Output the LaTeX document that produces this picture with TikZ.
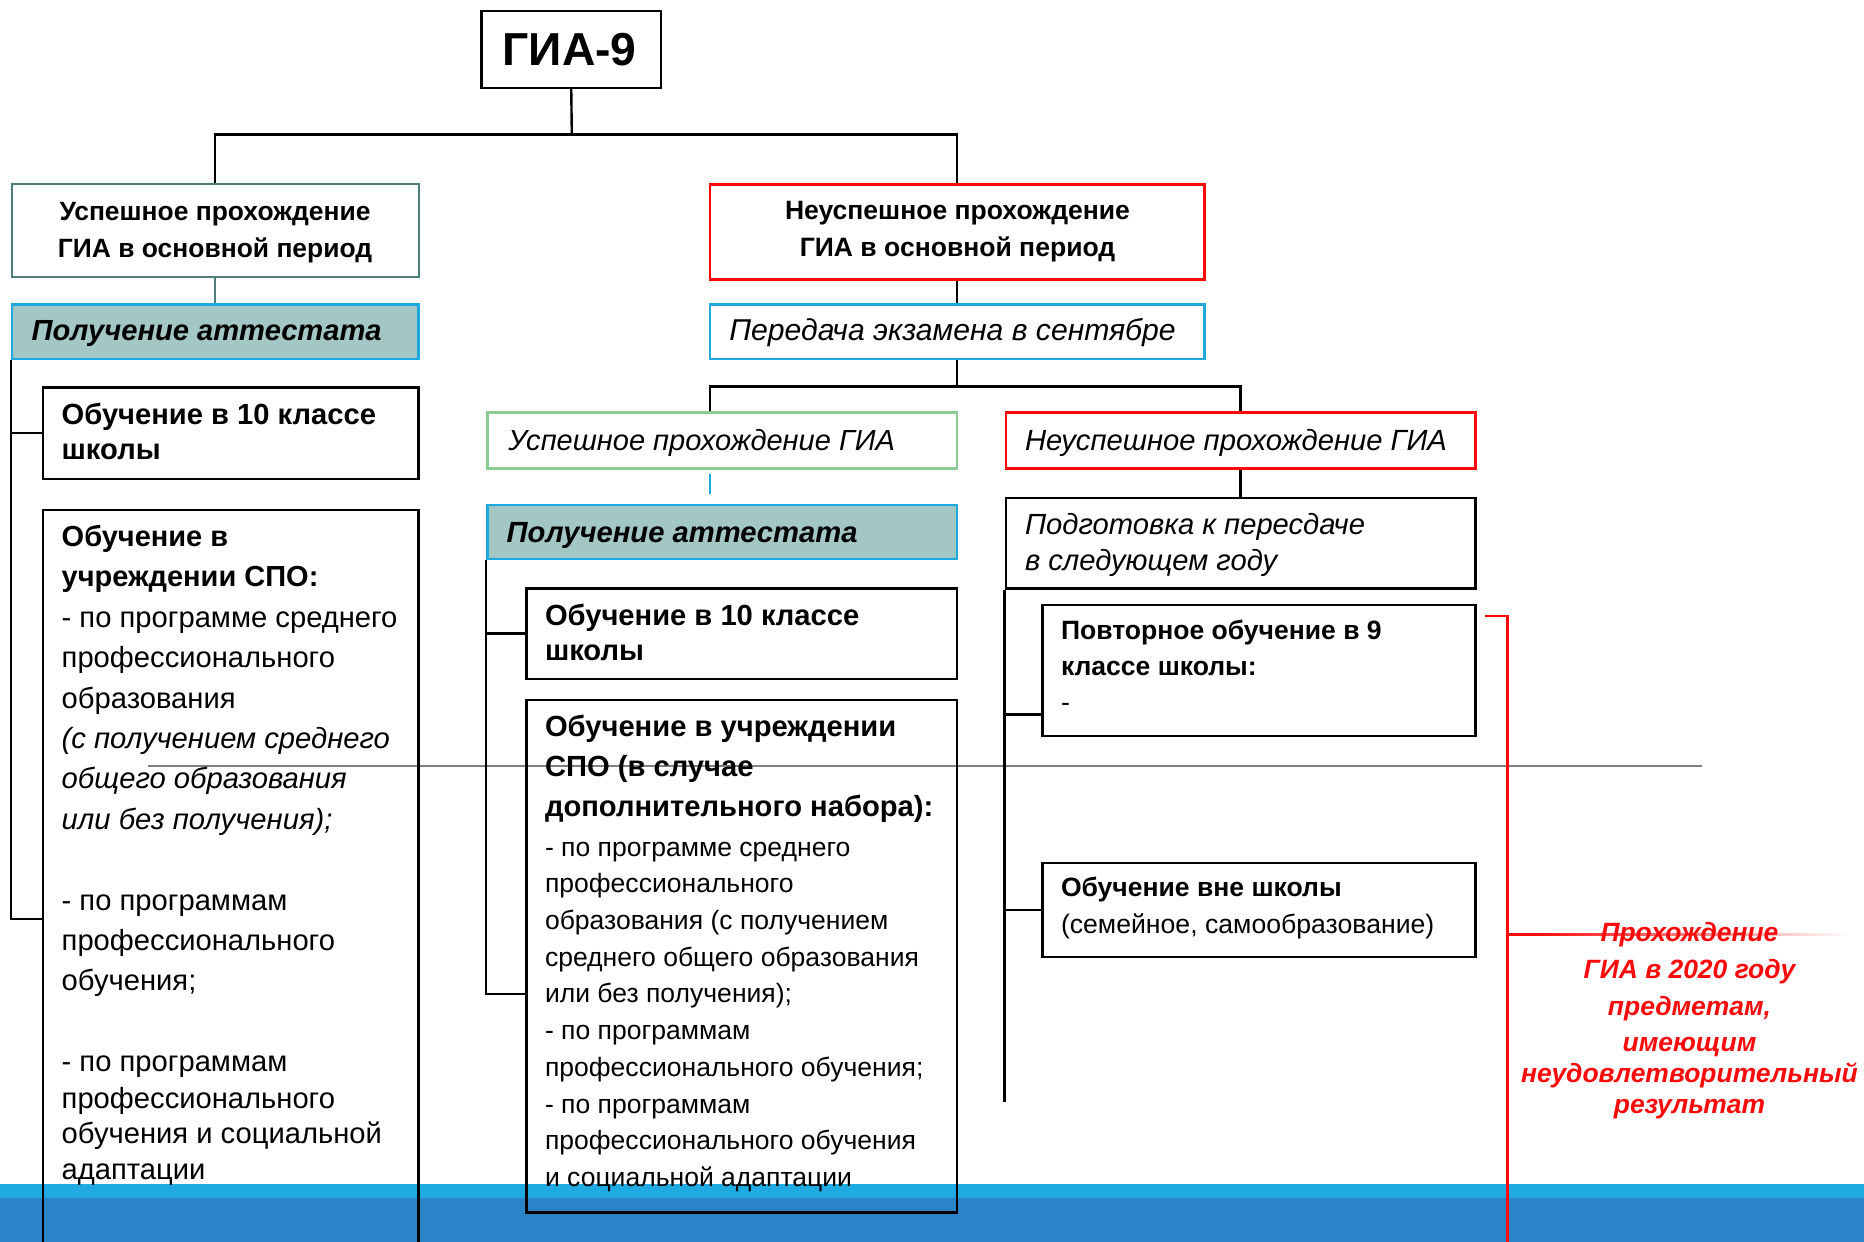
\documentclass[tikz,border=0pt]{standalone}
\usepackage{fontspec}
\setmainfont{Liberation Sans}
\usepackage{graphicx}
\usetikzlibrary{fit,calc}
\definecolor{tealb}{RGB}{78,126,122}
\definecolor{tealf}{RGB}{163,199,196}
\definecolor{cyanb}{RGB}{30,168,224}
\definecolor{redb}{RGB}{250,10,10}
\definecolor{greenb}{RGB}{140,205,150}
\definecolor{bandl}{RGB}{31,170,226}
\definecolor{bandd}{RGB}{41,133,199}
\definecolor{grayl}{RGB}{128,128,128}
\newsavebox\fitbox
\newcommand\fitsize[3]{\sbox\fitbox{\normalfont\fontsize{10}{12}\selectfont #3}\pgfmathsetmacro#1{10*#2/\the\wd\fitbox}\global\let#1#1}
\newcommand\fs[2]{\fontsize{#1}{#2}\selectfont}
\begin{document}
\fitsize\zzGIA{134}{\bfseries ГИА-9}
\fitsize\zzTopL{311}{\bfseries Успешное прохождение}
\fitsize\zzTopR{345}{\bfseries Неуспешное прохождение}
\fitsize\zzAttL{350}{\bfseries\itshape Получение аттестата}
\fitsize\zzSept{446.4}{\itshape Передача экзамена в сентябре}
\fitsize\zzOk{386.7}{\itshape Успешное прохождение ГИА}
\fitsize\zzFail{422}{\itshape Неуспешное прохождение ГИА}
\fitsize\zzAttM{351}{\bfseries\itshape Получение аттестата}
\fitsize\zzPrep{340}{\itshape Подготовка к пересдаче}
\fitsize\zzLten{314.3}{\bfseries Обучение в 10 классе}
\fitsize\zzLb{256.7}{\bfseries учреждении СПО:}
\fitsize\zzLr{335.7}{- по программе среднего}
\fitsize\zzLi{328.3}{\itshape (с получением среднего}
\fitsize\zzMten{314.3}{\bfseries Обучение в 10 классе}
\fitsize\zzMb{388.3}{\bfseries дополнительного набора):}
\fitsize\zzMr{374}{среднего общего образования}
\fitsize\zzRb{320.7}{\bfseries Повторное обучение в 9}
\fitsize\zzOb{280.7}{\bfseries Обучение вне школы}
\fitsize\zzOr{373.3}{(семейное, самообразование)}
\fitsize\zzRed{336.7}{\bfseries\itshape неудовлетворительный}
\begin{tikzpicture}[x=1pt,y=-1pt,
  bx/.style={draw,line width=2.4pt,inner sep=0pt},
  tx/.style={inner sep=0pt,outer sep=0pt},
  ln/.style={line width=2.4pt}]
\useasboundingbox (0,0) rectangle (1864,1242);
\fill[white] (0,0) rectangle (1864,1242);
% bottom bands
\fill[bandl] (0,1184) rectangle (1864,1198);
\fill[bandd] (0,1198) rectangle (1864,1242);
% thin gray rule
\draw[grayl,line width=2pt] (148,765.6) -- (1702.4,765.6);

% boxes
\node[bx, fit={(481.5,10.7) (661,88)}] (gia) {};
\node[bx, draw=tealb, line width=2pt, fit={(11.9,184.3) (418.5,277)}] (topL) {};
\node[bx, draw=redb, fit={(709.7,184.3) (1204.3,279.4)}] (topR) {};
\node[bx, draw=cyanb, fill=tealf, fit={(11.9,304.3) (418.5,359)}] (attL) {};
\node[bx, draw=cyanb, fit={(709.7,304.3) (1204.3,359)}] (sept) {};
\node[bx, draw=greenb, fit={(487.4,412.5) (957,468.4)}] (okG) {};
\node[bx, draw=redb, fit={(1005.7,412.5) (1475.3,468.4)}] (failG) {};
\node[bx, draw=cyanb, fill=tealf, fit={(487.4,505.2) (957,558.7)}] (attM) {};
\node[bx, fit={(1005.7,498.1) (1475.3,588.5)}] (prep) {};
\node[bx, fit={(42.8,387.5) (418.5,479)}] (L10) {};
\node[bx, fit={(42.8,510) (418.5,1262)}] (LSPO) {};
\node[bx, fit={(526.6,588.5) (957,678.8)}] (M10) {};
\node[bx, fit={(526.6,700.2) (957,1212.6)}] (MSPO) {};
\node[bx, fit={(1042.6,605.1) (1475.3,735.9)}] (rep) {};
\node[bx, fit={(1042.6,863) (1475.3,957)}] (outS) {};

% connectors
\coordinate (j1) at (571.8,134.3);
\draw[ln] (gia.south) -- (j1);
\draw[ln] (topL.north) |- (j1) -| (topR.north);
\draw[tealb,line width=2pt] (topL.south) -- (attL.north);
\draw[ln] (topR.south) -- (sept.north);
\coordinate (j2) at (957,386.4);
\coordinate (jl) at (709.7,386.4);
\draw[ln] (sept.south) -- (j2);
\draw[ln] (jl |- okG.north) |- (j2) -| (failG.north);
\draw[cyanb,line width=2.4pt,shorten <=4pt,shorten >=10pt] (okG.south -| jl) -- (attM.north -| jl);
\draw[ln] (failG.south) -- (prep.north);
\coordinate (yL2) at (0,918.9);
\draw[ln] (attL.south west) |- (L10.west);
\draw[ln] (attL.south west) |- (LSPO.west |- yL2);
\coordinate (yM2) at (0,993.8);
\draw[ln] (attM.south west) |- (M10.west);
\draw[ln] (attM.south west) |- (MSPO.west |- yM2);
\coordinate (yR1) at (0,714.5);
\coordinate (yR3) at (0,1102);
\draw[ln] (prep.south west) -- (prep.south west |- yR3);
\draw[ln] (prep.south west |- yR1) -- (rep.west |- yR1);
\draw[ln] (prep.south west |- outS.west) -- (outS.west);
% red bracket
\coordinate (rb1) at (1484.8,615.8);
\coordinate (rb2) at (1507.4,1262);
\coordinate (rb3) at (1507.4,934.4);
\coordinate (rb4) at (1532,934.4);
\draw[redb,line width=2.4pt] (rb1) -| (rb2);
\draw[redb,line width=3pt] (rb3) -- (rb4);
\shade[left color=redb,right color=white] (1532,933.2) rectangle (1850,935.6);

% texts
\node[tx,anchor=base] (tGIA) at (569.7,65) {\fs{\zzGIA}{50}\bfseries ГИА-9};
\node[tx,anchor=base] (tTopL) at (215,220) {\fs{\zzTopL}{37.5}\bfseries\begin{tabular}[t]{@{}c@{}}Успешное прохождение\\ГИА в основной период\end{tabular}};
\node[tx,anchor=base] (tTopR) at (957.5,219) {\fs{\zzTopR}{37.5}\bfseries\begin{tabular}[t]{@{}c@{}}Неуспешное прохождение\\ГИА в основной период\end{tabular}};
\node[tx,anchor=base west] (tAttL) at (31.7,340.7) {\fs{\zzAttL}{30}\bfseries\itshape Получение аттестата};
\node[tx,anchor=base west] (tSept) at (729.3,340.7) {\fs{\zzSept}{30}\itshape Передача экзамена в сентябре};
\node[tx,anchor=base west] (tOk) at (508.3,450) {\fs{\zzOk}{30}\itshape Успешное прохождение ГИА};
\node[tx,anchor=base west] (tFail) at (1025,450) {\fs{\zzFail}{30}\itshape Неуспешное прохождение ГИА};
\node[tx,anchor=base west] (tAttM) at (506.7,542) {\fs{\zzAttM}{30}\bfseries\itshape Получение аттестата};
\node[tx,anchor=base west] (tPrep) at (1025,534) {\fs{\zzPrep}{36}\itshape\begin{tabular}[t]{@{}l@{}}Подготовка к пересдаче\\в следующем году\end{tabular}};
\node[tx,anchor=base west] (tL10) at (61.7,424) {\fs{\zzLten}{35.5}\bfseries\begin{tabular}[t]{@{}l@{}}Обучение в 10 классе\\школы\end{tabular}};
\node[tx,anchor=base west] (tLSPOa) at (61.7,546.5) {\fs{\zzLr}{40.4}\begin{tabular}[t]{@{}l@{}}
{\fs{\zzLb}{40.4}\bfseries Обучение в}\\
{\fs{\zzLb}{40.4}\bfseries учреждении СПО:}\\
- по программе среднего\\
профессионального\\
образования\\
{\fs{\zzLi}{40.4}\itshape (с получением среднего}\\
{\fs{\zzLi}{40.4}\itshape общего образования}\\
{\fs{\zzLi}{40.4}\itshape или без получения);}\\
\\
- по программам\\
профессионального\\
обучения;\\
\\
- по программам\end{tabular}};
\node[tx,anchor=base west] (tLSPOb) at (61.7,1108.4) {\fs{\zzLr}{35.3}\begin{tabular}[t]{@{}l@{}}профессионального\\обучения и социальной\\адаптации\end{tabular}};
\node[tx,anchor=base west] (tM10) at (545,625.5) {\fs{\zzMten}{35.3}\bfseries\begin{tabular}[t]{@{}l@{}}Обучение в 10 классе\\школы\end{tabular}};
\node[tx,anchor=base west] (tMSPOa) at (545,736) {\fs{\zzMb}{40.4}\bfseries\begin{tabular}[t]{@{}l@{}}Обучение в учреждении\\СПО (в случае\\дополнительного набора):\end{tabular}};
\node[tx,anchor=base west] (tMSPOb) at (545,856) {\fs{\zzMr}{36.72}\begin{tabular}[t]{@{}l@{}}- по программе среднего\\профессионального\\образования (с получением\\среднего общего образования\\или без получения);\\- по программам\\профессионального обучения;\\- по программам\\профессионального обучения\\и социальной адаптации\end{tabular}};
\node[tx,anchor=base west] (tRep) at (1061,639) {\fs{\zzOr}{36}\begin{tabular}[t]{@{}l@{}}{\fs{\zzRb}{36}\bfseries Повторное обучение в 9}\\{\fs{\zzRb}{36}\bfseries классе школы:}\\-\end{tabular}};
\node[tx,anchor=base west] (tOut) at (1061,896.5) {\fs{\zzOr}{37}\begin{tabular}[t]{@{}l@{}}{\fs{\zzOb}{37}\bfseries Обучение вне школы}\\(семейное, самообразование)\end{tabular}};
\node[tx,anchor=base] (tRedA) at (1689.5,941.7) {\fs{\zzRed}{36.7}\bfseries\itshape\color{redb}\begin{tabular}[t]{@{}c@{}}Прохождение\\ГИА в 2020 году\\предметам,\\имеющим\end{tabular}};
\node[tx,anchor=base] (tRedB) at (1689.5,1082.7) {\fs{\zzRed}{30.6}\bfseries\itshape\color{redb}\begin{tabular}[t]{@{}c@{}}неудовлетворительный\\результат\end{tabular}};
\end{tikzpicture}
\end{document}
